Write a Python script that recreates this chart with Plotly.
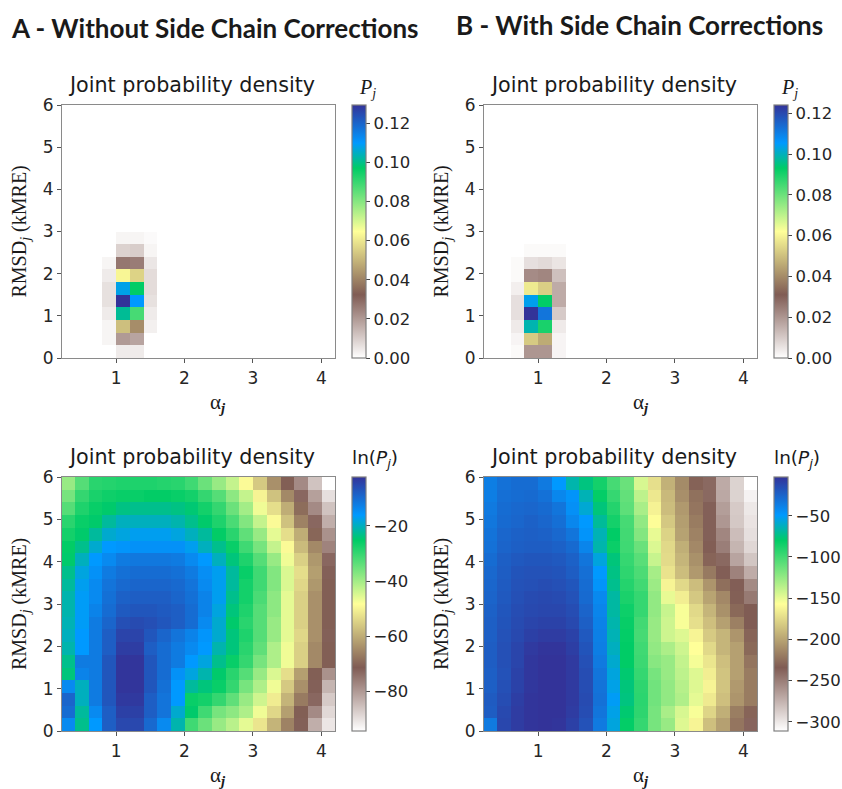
import plotly.graph_objects as go

terrain_r = [[0.0, "rgb(255,255,255)"], [0.25, "rgb(128,92,84)"], [0.5, "rgb(255,255,153)"],
             [0.75, "rgb(0,204,102)"], [0.85, "rgb(0,153,255)"], [1.0, "rgb(51,51,153)"]]

def col_row(left, cells):
    return [0] * left + cells + [0] * (20 - left - len(cells))

# P_j, rows listed top (y = 5.7-6.0) to bottom (0-0.3)
P_A = [col_row(0, []) for _ in range(10)] + [
    col_row(3, [0.000, 0.002, 0.002, 0.001]),
    col_row(3, [0.000, 0.009, 0.010, 0.002]),
    col_row(3, [0.002, 0.027, 0.026, 0.005]),
    col_row(3, [0.004, 0.063, 0.056, 0.007]),
    col_row(3, [0.006, 0.108, 0.097, 0.007]),
    col_row(3, [0.006, 0.1294, 0.110, 0.006]),
    col_row(3, [0.004, 0.101, 0.088, 0.004]),
    col_row(3, [0.002, 0.052, 0.042, 0.003]),
    col_row(3, [0.002, 0.020, 0.018, 0.000]),
    col_row(3, [0.000, 0.004, 0.004, 0.000]),
]
P_B = [col_row(0, []) for _ in range(11)] + [
    col_row(2, [0.000, 0.001, 0.001, 0.001]),
    col_row(2, [0.001, 0.006, 0.007, 0.005]),
    col_row(2, [0.001, 0.022, 0.023, 0.012]),
    col_row(2, [0.003, 0.058, 0.053, 0.016]),
    col_row(2, [0.006, 0.104, 0.093, 0.016]),
    col_row(2, [0.006, 0.1241, 0.112, 0.010]),
    col_row(2, [0.004, 0.099, 0.090, 0.004]),
    col_row(2, [0.002, 0.052, 0.046, 0.002]),
    col_row(2, [0.001, 0.020, 0.020, 0.002]),
]

lnP_A = [
    [-39,-33,-29,-28.5,-28,-28,-28,-28.5,-29,-31,-35,-39,-43,-49,-56,-64,-71,-78,-86,-94.5],
    [-36,-30,-27.5,-26.5,-26,-26,-25.5,-25.5,-26,-27,-30,-33,-38,-43,-50,-57,-65,-73,-81,-90],
    [-33,-28,-26,-25,-23.5,-23,-23,-23,-23.5,-24.5,-27,-30,-35,-40,-47,-53,-60,-69,-78,-86],
    [-29,-26,-25,-22,-20,-20,-20,-20,-21,-23,-25,-28,-32,-37,-43,-49,-57,-66,-73,-83],
    [-27,-25,-22,-19,-18,-17,-17,-17,-18,-20,-22,-25.5,-29,-34,-39,-46,-53,-60,-70,-79],
    [-25.5,-23,-19,-16,-15.5,-15,-15,-15,-15,-17,-20,-23,-26,-31,-36,-43,-49,-58,-65,-77],
    [-25,-20,-16,-14,-12,-11.5,-11.5,-11.5,-12,-14,-16,-20,-24,-28,-33,-39,-47,-55,-63,-73],
    [-23,-18,-15,-12,-10.5,-10,-10,-10,-10.5,-12,-14.5,-17,-22,-26,-31,-37,-45,-53,-62,-72],
    [-22,-17,-14,-11,-9.5,-9,-9,-9,-9.5,-11,-14,-17,-22,-27,-31,-37,-45,-54,-63,-71],
    [-21,-16.5,-14,-10.5,-8.5,-8,-8,-8,-9,-10.5,-13,-17,-23,-27,-32,-38,-46,-55,-64,-71],
    [-21,-16.5,-13,-10,-7.5,-7,-7,-7.5,-8,-10,-13,-18,-24,-28,-33,-38,-46,-55,-64,-71],
    [-20.5,-16.5,-12,-9,-6,-5.5,-6,-7,-8,-10,-14,-19,-25,-29,-33,-39,-46,-55,-64,-71],
    [-20,-16,-12,-8,-4.5,-4.5,-7,-9,-11,-13,-15.5,-19,-24,-28,-33,-39,-46,-54,-64,-72],
    [-21,-16,-12,-8,-3.5,-3.5,-8,-10,-12,-14,-16,-21,-24,-29,-34,-41,-47,-55,-65,-71],
    [-23,-12,-12,-7,-2.5,-2.5,-7,-10,-12,-16,-18,-23,-26,-30,-36,-41,-47,-55,-65,-71],
    [-24,-13,-12,-7,-2.5,-2.5,-7,-10,-15,-18,-21,-25,-29,-33,-39,-45,-53,-62,-71,-79],
    [-14,-20,-12,-7,-2.5,-2.5,-7,-10.5,-16,-22,-24,-26,-30,-36,-41,-47,-56,-64,-72,-84],
    [-9,-20,-12,-7,-3,-3,-8,-11,-16,-26,-27,-30,-34,-39,-44,-51,-59,-67,-73,-87],
    [-10,-22,-14,-8,-4,-4,-8,-11,-19,-25,-31,-36,-38,-41,-47,-54,-62,-71,-78,-89],
    [-14,-23,-16,-8,-5,-5,-9.5,-14,-21,-31,-35,-39,-42,-46,-52,-59,-66,-72,-83,-91],
]

lnP_B = [
    [-37,-31,-29,-29,-35,-49,-66,-75,-86,-101,-112,-145,-172,-194,-212,-231,-240,-271,-290,-311],
    [-37,-30,-29,-28,-31,-41,-47,-64,-81,-96,-110,-137,-168,-190,-210,-224,-240,-270,-290,-305],
    [-35,-29,-27,-26,-28,-33,-45,-58,-76,-91,-108,-131,-163,-188,-205,-222,-236,-265,-286,-300],
    [-34,-28,-26,-24,-26,-30,-41,-49,-70,-86,-101,-124,-158,-183,-203,-219,-236,-262,-285,-298],
    [-32,-26,-24,-23,-24,-27,-33,-47,-64,-80,-100,-120,-150,-178,-201,-216,-236,-254,-280,-296],
    [-31,-25,-23,-22,-22,-24,-28,-40,-66,-83,-99,-112,-146,-175,-195,-213,-233,-250,-276,-292],
    [-29,-23,-20,-19,-19,-20,-24,-33,-56,-76,-96,-107,-140,-174,-192,-209,-230,-240,-268,-284],
    [-27,-22,-18,-17,-17,-18,-22,-30,-49,-74,-94,-103,-130,-170,-188,-205,-220,-235,-252,-272],
    [-26,-21,-17,-16,-15,-16,-19,-29,-47,-72,-91,-100,-127,-162,-175,-188,-207,-225,-235,-256],
    [-25,-20,-16,-14,-13,-14,-17,-28,-42,-68,-88,-96,-124,-150,-165,-183,-200,-213,-232,-248],
    [-24,-19,-15,-13,-12,-12,-15,-25,-40,-68,-84,-96,-124,-140,-155,-175,-192,-209,-228,-234],
    [-23,-18,-14,-11,-10,-10,-13,-23,-39,-66,-82,-100,-126,-142,-155,-172,-187,-202,-217,-234],
    [-23,-17,-13,-9,-7,-7,-10,-20,-38,-64,-81,-101,-126,-142,-147,-162,-182,-192,-207,-230],
    [-22,-16,-11,-6,-4,-4,-8,-18,-37,-62,-80,-99,-124,-132,-142,-157,-175,-192,-202,-228],
    [-22,-16,-11,-5,-3,-3,-6,-16,-35,-59,-80,-98,-121,-126,-139,-154,-169,-187,-202,-222],
    [-23,-17,-10,-5,-3,-3,-6,-15,-33,-56,-78,-96,-116,-126,-137,-147,-165,-185,-202,-219],
    [-23,-16,-10,-5,-3,-3,-6,-15,-32,-54,-76,-94,-114,-124,-135,-147,-162,-185,-205,-219],
    [-21,-15,-8,-4,-3,-3,-6,-14,-31,-51,-75,-93,-114,-124,-133,-149,-167,-187,-207,-219],
    [-22,-13,-7,-4,-3,-3,-7,-15,-33,-54,-78,-94,-116,-131,-145,-155,-177,-195,-218,-230],
    [-35,-12,-7,-4,-3,-4,-9,-17,-35,-56,-81,-96,-116,-126,-147,-162,-187,-202,-222,-238],
]

ticks_x = [1, 2, 3, 4]
ticks_y = [0, 1, 2, 3, 4, 5, 6]
cb_P_A = [0, 0.02, 0.04, 0.06, 0.08, 0.10, 0.12]
cb_P_B = [0, 0.02, 0.04, 0.06, 0.08, 0.10, 0.12]
cb_ln_A = [-80, -60, -40, -20]
cb_ln_B = [-300, -250, -200, -150, -100, -50]

W, H = 842, 789
TEXT = "#262626"
SANS = "DejaVu Sans"
SERIF = "Liberation Serif"
panels = [
    (P_A, 0, 0.1294, cb_P_A, 62, 335, 105, 358, 352, ".2f"),
    (P_B, 0, 0.1241, cb_P_B, 484, 757, 105, 358, 774, ".2f"),
    (lnP_A, -94.5, -2.2, cb_ln_A, 62, 335, 477, 731, 352, "d"),
    (lnP_B, -311, -3, cb_ln_B, 484, 757, 477, 731, 774, "d"),
]

fig = go.Figure()
layout = dict(width=W, height=H, autosize=False, margin=dict(l=0, r=0, t=0, b=0, autoexpand=False),
              paper_bgcolor="white", plot_bgcolor="white", showlegend=False,
              font=dict(family=SANS, size=17, color=TEXT))
annotations = []

def note(x, y, text, size, family=SANS, anchor="center", angle=0):
    annotations.append(dict(xref="paper", yref="paper", x=x / W, y=1 - y / H, text=text,
                            showarrow=False, xanchor=anchor, yanchor="middle", textangle=angle,
                            font=dict(family=family, size=size, color="#1a1a1a")))

for i, (z, zmin, zmax, cb, x0, x1, y0, y1, cbx, fmt) in enumerate(panels):
    n = "" if i == 0 else str(i + 1)
    fig.add_trace(go.Heatmap(
        z=z, x0=0.3, dx=0.2, y0=5.85, dy=-0.3, zmin=zmin, zmax=zmax, colorscale=terrain_r,
        xaxis="x" + n, yaxis="y" + n, xgap=0, ygap=0,
        colorbar=dict(
            x=cbx / W, xanchor="left", xpad=0, ypad=0, thickness=13.5, thicknessmode="pixels",
            y=1 - y1 / H, yanchor="bottom", len=(y1 - y0) / H, lenmode="fraction",
            tickmode="array", tickvals=cb,
            ticktext=[(f"{v:.2f}" if fmt == ".2f" else f"\u2212{abs(v)}") for v in cb],
            ticks="outside", ticklen=4, tickwidth=1, tickcolor="#444",
            tickfont=dict(family=SANS, size=16.5, color=TEXT),
            outlinecolor="#808080", outlinewidth=1.2,
        ),
    ))
    axis_common = dict(showgrid=False, zeroline=False, showline=True, mirror=True,
                       linecolor="#8a8a8a", linewidth=1.2, ticks="outside", ticklen=4,
                       tickwidth=1, tickcolor="#555",
                       tickfont=dict(family=SANS, size=17, color=TEXT))
    layout["xaxis" + n] = dict(axis_common, domain=[x0 / W, x1 / W], range=[0.21, 4.2],
                               tickmode="array", tickvals=ticks_x, anchor="y" + n)
    layout["yaxis" + n] = dict(axis_common, domain=[1 - y1 / H, 1 - y0 / H], range=[0, 6],
                               tickmode="array", tickvals=ticks_y, anchor="x" + n)
    note(x0 - 42, (y0 + y1) / 2, "RMSD<sub><i>j</i></sub> (kMRE)", 20, SERIF, angle=-90)
    note((x0 + x1) / 2 - 7, y0 - 20, "Joint probability density", 20.7)
    note((x0 + x1) / 2 + 20, y1 + 45, "\u03b1<sub><b><i>j</i></b></sub>", 21, SERIF)
    if i < 2:
        note(cbx + 15, 88, "<i>P</i><sub><i>j</i></sub>", 20, SERIF)
    else:
        note(cbx + 23, 459, "ln(<i>P</i><sub><i>j</i></sub>)", 18.5)

note(9, 28, "<b>A - Without Side Chain Corrections</b>", 26, "Lato", "left")
note(454, 25, "<b>B - With Side Chain Corrections</b>", 26, "Lato", "left")
layout["annotations"] = annotations
fig.update_layout(**layout)
fig.write_html("out.html", post_script="document.body.style.margin='0';",
               config={"displayModeBar": False})
